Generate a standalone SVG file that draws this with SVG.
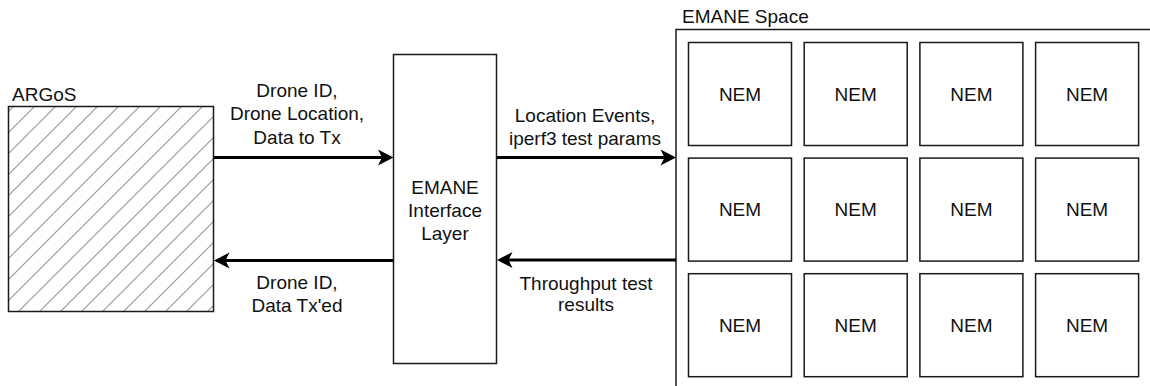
<svg xmlns="http://www.w3.org/2000/svg" width="1150" height="386" viewBox="0 0 1150 386">
  <style>
    .box { fill: #ffffff; stroke: #1a1a1a; stroke-width: 1.5; }
    .txt { font-family: "Liberation Sans", Arial, sans-serif; font-size: 19px; fill: #111111; }
    .mid { text-anchor: middle; }
    .conn { stroke: #000000; stroke-width: 2.8; fill: none; }
    .head { fill: #000000; stroke: none; }
  </style>
  <defs>
    <pattern id="hatch" patternUnits="userSpaceOnUse" x="-6" y="0" width="21" height="21">
      <path d="M0,21 L21,0 M-2,2 L2,-2 M19,23 L23,19" stroke="#999999" stroke-width="1.2"/>
    </pattern>
  </defs>

  <rect width="1150" height="386" fill="#ffffff"/>

  <g id="argos">
    <rect x="8.5" y="106.5" width="205" height="205" fill="url(#hatch)" stroke="#1a1a1a" stroke-width="1.5"/>
    <text class="txt" x="12" y="101">ARGoS</text>
  </g>

  <g id="emane-interface-layer">
    <rect class="box" x="393.5" y="54.5" width="103" height="309"/>
    <text class="txt mid" x="445" y="193.5">EMANE</text>
    <text class="txt mid" x="445" y="216.5">Interface</text>
    <text class="txt mid" x="445" y="240">Layer</text>
  </g>

  <g id="emane-space">
    <rect class="box" x="676" y="29.5" width="500" height="380"/>
    <text class="txt" x="682" y="22.5">EMANE Space</text>
  </g>

  <g id="nems">
    <g id="nem-1-1"><rect class="box" x="688.5" y="42.5" width="103" height="103"/><text class="txt mid" x="740" y="100.5">NEM</text></g>
    <g id="nem-1-2"><rect class="box" x="804.2" y="42.5" width="103" height="103"/><text class="txt mid" x="855.7" y="100.5">NEM</text></g>
    <g id="nem-1-3"><rect class="box" x="919.9" y="42.5" width="103" height="103"/><text class="txt mid" x="971.4" y="100.5">NEM</text></g>
    <g id="nem-1-4"><rect class="box" x="1035.6" y="42.5" width="103" height="103"/><text class="txt mid" x="1087.1" y="100.5">NEM</text></g>

    <g id="nem-2-1"><rect class="box" x="688.5" y="158.1" width="103" height="103"/><text class="txt mid" x="740" y="216.1">NEM</text></g>
    <g id="nem-2-2"><rect class="box" x="804.2" y="158.1" width="103" height="103"/><text class="txt mid" x="855.7" y="216.1">NEM</text></g>
    <g id="nem-2-3"><rect class="box" x="919.9" y="158.1" width="103" height="103"/><text class="txt mid" x="971.4" y="216.1">NEM</text></g>
    <g id="nem-2-4"><rect class="box" x="1035.6" y="158.1" width="103" height="103"/><text class="txt mid" x="1087.1" y="216.1">NEM</text></g>

    <g id="nem-3-1"><rect class="box" x="688.5" y="273.7" width="103" height="103"/><text class="txt mid" x="740" y="331.7">NEM</text></g>
    <g id="nem-3-2"><rect class="box" x="804.2" y="273.7" width="103" height="103"/><text class="txt mid" x="855.7" y="331.7">NEM</text></g>
    <g id="nem-3-3"><rect class="box" x="919.9" y="273.7" width="103" height="103"/><text class="txt mid" x="971.4" y="331.7">NEM</text></g>
    <g id="nem-3-4"><rect class="box" x="1035.6" y="273.7" width="103" height="103"/><text class="txt mid" x="1087.1" y="331.7">NEM</text></g>
  </g>

  <g id="connectors">
    <g id="argos-to-layer">
      <line class="conn" x1="214" y1="157.5" x2="386" y2="157.5"/>
      <path class="head" d="M393.5,157.5 L378,149.5 L382,157.5 L378,165.5 Z"/>
      <text class="txt mid" x="297" y="97">Drone ID,</text>
      <text class="txt mid" x="297" y="120">Drone Location,</text>
      <text class="txt mid" x="297" y="143.5">Data to Tx</text>
    </g>
    <g id="layer-to-argos">
      <line class="conn" x1="393.5" y1="260.5" x2="221" y2="260.5"/>
      <path class="head" d="M214,260.5 L229.5,252.5 L225.5,260.5 L229.5,268.5 Z"/>
      <text class="txt mid" x="297" y="288.5">Drone ID,</text>
      <text class="txt mid" x="297" y="312">Data Tx'ed</text>
    </g>
    <g id="layer-to-space">
      <line class="conn" x1="496.5" y1="157.5" x2="669" y2="157.5"/>
      <path class="head" d="M676,157.5 L660.5,149.5 L664.5,157.5 L660.5,165.5 Z"/>
      <text class="txt mid" x="585" y="122">Location Events,</text>
      <text class="txt mid" x="585" y="144.5">iperf3 test params</text>
    </g>
    <g id="space-to-layer">
      <line class="conn" x1="676" y1="260" x2="504" y2="260"/>
      <path class="head" d="M497,260 L512.5,252 L508.5,260 L512.5,268 Z"/>
      <text class="txt mid" x="586" y="289.5">Throughput test</text>
      <text class="txt mid" x="586" y="311">results</text>
    </g>
  </g>
</svg>
